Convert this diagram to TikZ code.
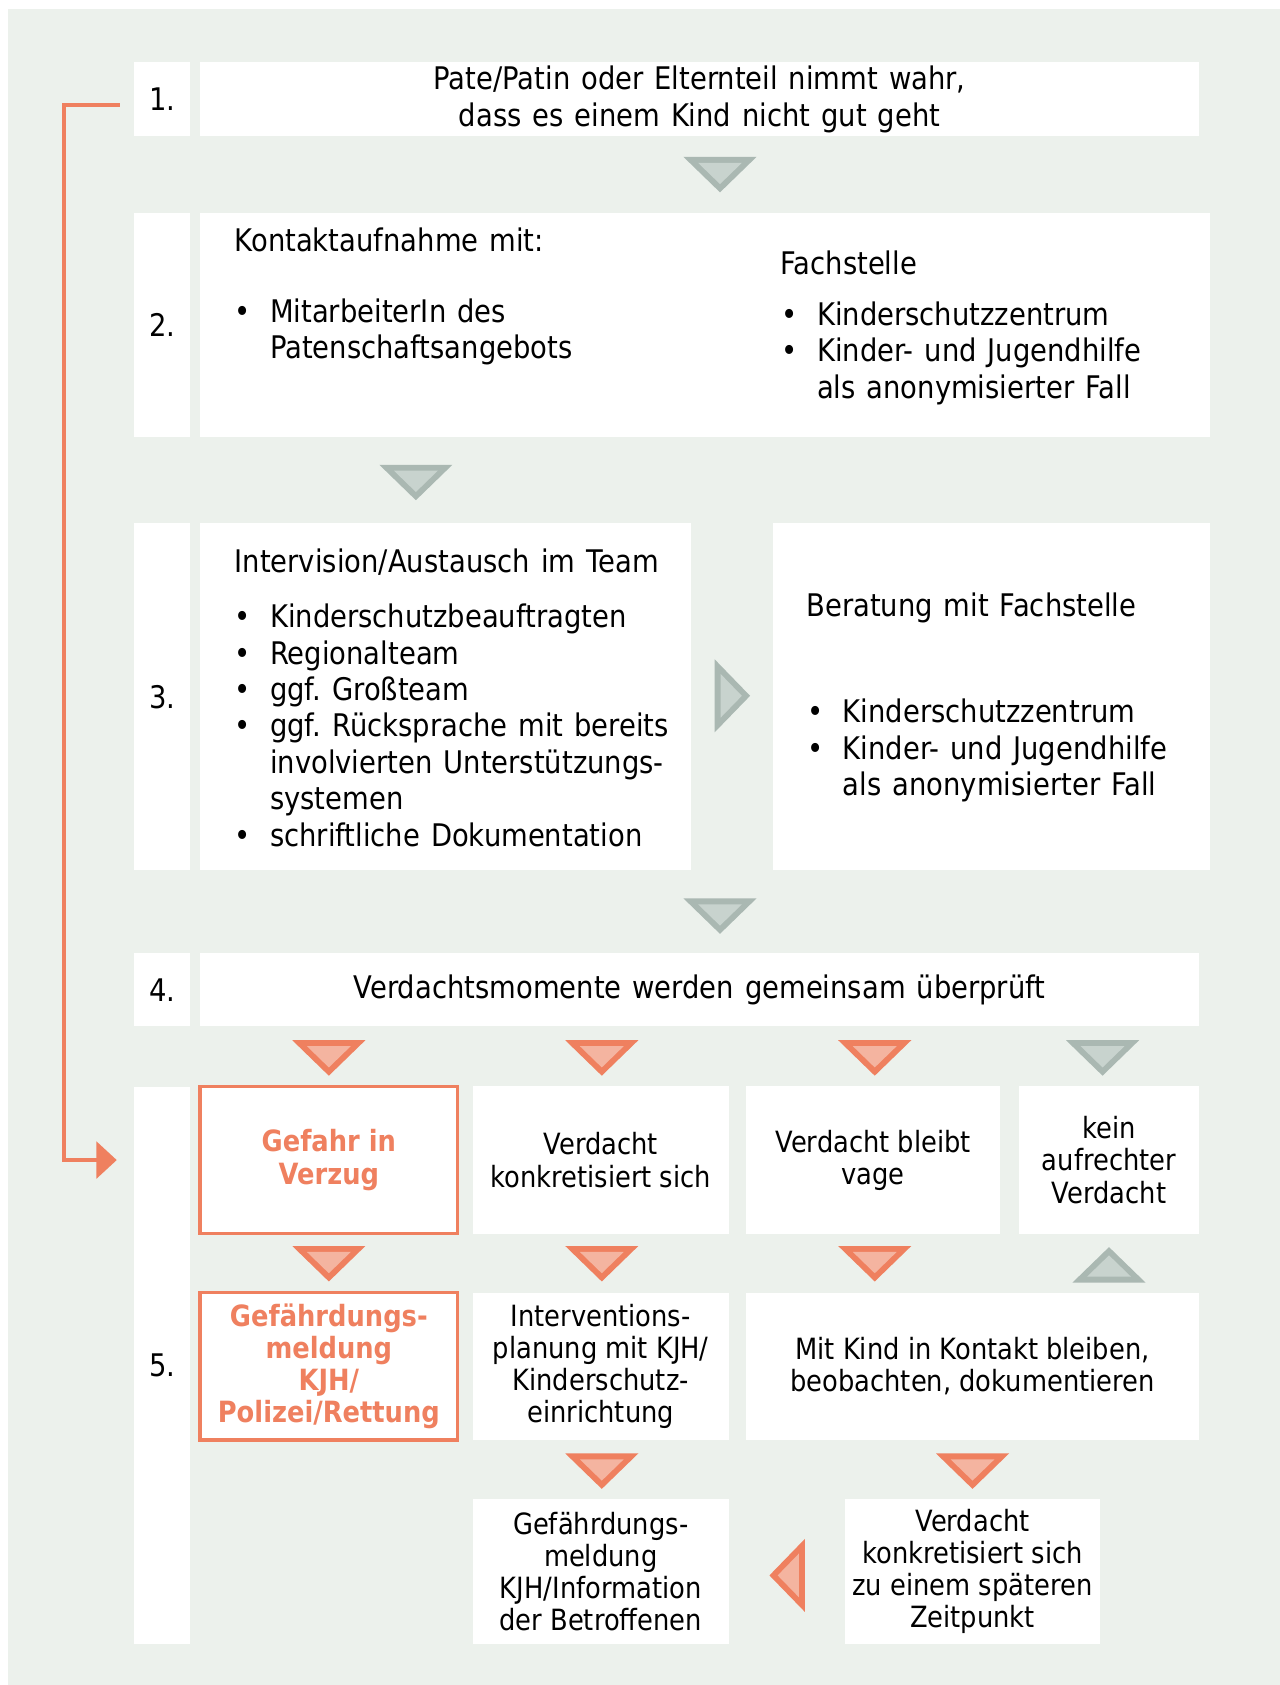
\documentclass[tikz,border=0pt]{standalone}
\usepackage{fontspec}
\setmainfont{DejaVu Sans}[FakeStretch=0.88]
\usepackage{tikz}
\usetikzlibrary{arrows.meta,positioning}
\definecolor{pbg}{RGB}{236,241,236}
\definecolor{porange}{RGB}{239,128,95}
\definecolor{porangelt}{RGB}{244,180,160}
\definecolor{pgray}{RGB}{170,184,178}
\definecolor{pgraylt}{RGB}{200,211,206}
\frenchspacing
\newcommand{\bigtxt}{\fontsize{16.5}{19.3}\selectfont}
\newcommand{\smalltxt}{\fontsize{15.5}{17}\selectfont}
\newcommand{\widesp}{\spaceskip=0.35em plus 0.1em\relax}
\newcommand{\itm}{\makebox[0.66cm][l]{\textbullet}}
\newcommand{\cnt}{\hspace*{0.66cm}}
\tikzstyle{nr} = [fill=white, inner sep=0pt, minimum width=1.04cm, font=\bigtxt]
\tikzstyle{panel} = [fill=white, inner sep=0pt, align=center, font=\bigtxt\widesp]
\tikzstyle{txt} = [inner sep=0pt, anchor=west, align=left, font=\bigtxt\widesp]
\tikzstyle{cell} = [fill=white, inner sep=0pt, align=center, minimum height=2.74cm, font=\smalltxt]
\tikzstyle{alarm} = [cell, draw=porange, line width=1.7pt, text=porange, font=\smalltxt\bfseries]
\tikzstyle{loopline} = [porange, line width=2.3pt, -{Triangle[length=0.38cm,width=0.68cm]}, shorten <=0.26cm, shorten >=0.32cm]
\tikzset{
  grtri/.pic={
    \fill[pgray] (-34,-16.5) -- (34,-16.5) -- (0,16.5) -- cycle;
    \fill[pgraylt] (-20.4,-11) -- (20.4,-11) -- (0,8.8) -- cycle;
  },
  ortri/.pic={
    \fill[porange] (-34,-16.5) -- (34,-16.5) -- (0,16.5) -- cycle;
    \fill[porangelt] (-20.4,-11) -- (20.4,-11) -- (0,8.8) -- cycle;
  }
}

\begin{document}
\begin{tikzpicture}[x=0.02cm, y=-0.02cm]
\useasboundingbox (0,0) rectangle (1191,1568);
\fill[pbg] (7,8) rectangle (1191,1568);

% Step 1
\node[nr, minimum height=1.38cm] (n1) at (151,92.5) {1.};
\node[panel, minimum width=18.6cm, minimum height=1.38cm] (b1) at (651,92.5) {Pate/Patin oder Elternteil nimmt wahr,\\dass es einem Kind nicht gut geht};

% Step 2
\node[nr, minimum height=4.18cm] (n2) at (151,302.5) {2.};
\node[panel, minimum width=18.8cm, minimum height=4.18cm] (b2) at (656,302.5) {};
\node[txt] (b2h) at (218,223) {Kontaktaufnahme mit:};
\node[txt] (b2l) at (218,309) {\itm MitarbeiterIn des\\\cnt Patenschaftsangebots};
\node[txt] (b2rh) at (726,245) {Fachstelle};
\node[txt] (b2rl) at (727,328.5) {\itm Kinderschutzzentrum\\\itm Kinder- und Jugendhilfe\\\cnt als anonymisierter Fall};

% Step 3
\node[nr, minimum height=6.46cm] (n3) at (151,648.5) {3.};
\node[panel, minimum width=9.14cm, minimum height=6.46cm] (b3) at (414.5,648.5) {};
\node[panel, minimum width=8.14cm, minimum height=6.46cm] (b3r) at (922.5,648.5) {};
\node[txt] (b3h) at (218,523) {Intervision/Austausch im Team};
\node[txt] (b3l) at (218,675) {\itm Kinderschutzbeauftragten\\\itm Regionalteam\\\itm ggf. Großteam\\\itm ggf. Rücksprache mit bereits\\\cnt involvierten Unterstützungs-\\\cnt systemen\\\itm schriftliche Dokumentation};
\node[txt] (b3rh) at (750,566) {Beratung mit Fachstelle};
\node[txt] (b3rl) at (751,698.5) {\itm Kinderschutzzentrum\\\itm Kinder- und Jugendhilfe\\\cnt als anonymisierter Fall};

% Step 4
\node[nr, minimum height=1.36cm] (n4) at (151,921) {4.};
\node[panel, minimum width=18.6cm, minimum height=1.36cm] (b4) at (651,921) {Verdachtsmomente werden gemeinsam überprüft};

% Step 5
\node[nr, minimum height=10.38cm] (n5) at (151,1270.5) {5.};
\node[alarm, minimum width=4.8cm] (gz) at (306,1079.5) {Gefahr in\\Verzug};
\node[cell, minimum width=4.76cm] (vk) at (559,1079.5) {Verdacht\\konkretisiert sich};
\node[cell, minimum width=4.74cm] (vb) at (812.5,1079.5) {Verdacht bleibt\\vage};
\node[cell, minimum width=3.36cm] (kv) at (1032,1079.5) {kein\\aufrechter\\Verdacht};
\node[alarm, minimum width=4.8cm] (gm) at (306,1271.5) {Gefährdungs-\\meldung\\KJH/\\Polizei/Rettung};
\node[cell, minimum width=4.76cm] (ip) at (559,1271.5) {Interventions-\\planung mit KJH/\\Kinderschutz-\\einrichtung};
\node[cell, minimum width=8.44cm] (mk) at (905,1271.5) {Mit Kind in Kontakt bleiben,\\beobachten, dokumentieren};
\node[cell, minimum width=4.76cm, minimum height=2.7cm] (gi) at (559,1462.5) {Gefährdungs-\\meldung\\KJH/Information\\der Betroffenen};
\node[cell, minimum width=4.76cm, minimum height=2.7cm] (vs) at (905,1462.5) {Verdacht\\konkretisiert sich\\zu einem späteren\\Zeitpunkt};

% Arrow marks
\pic at (670,162.5) {grtri};
\pic at (387,449) {grtri};
\pic[rotate=90] at (681.5,647.5) {grtri};
\pic at (670,852.5) {grtri};
\foreach \x in {306,560,814} \pic at (\x,984.5) {ortri};
\pic at (1026,984.5) {grtri};
\foreach \x in {306,560,814} \pic at (\x,1176) {ortri};
\pic[rotate=180] at (1032,1177) {grtri};
\foreach \x in {560,905} \pic at (\x,1369) {ortri};
\pic[rotate=-90] at (732.5,1466) {ortri};

% Danger shortcut
\draw[loopline] ([yshift=-0.1cm]n1.west) -- ++(-65,0) |- (n5.west |- gz.center);
\end{tikzpicture}
\end{document}
